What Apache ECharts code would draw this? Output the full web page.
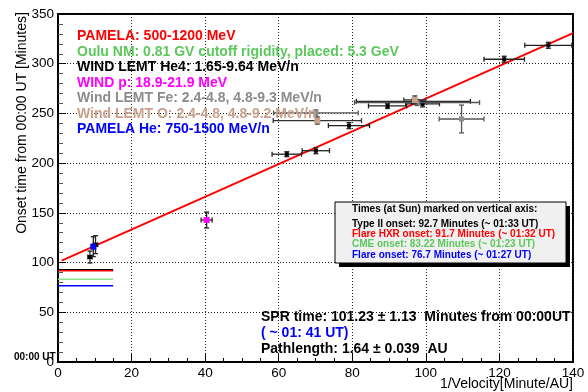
<!DOCTYPE html>
<html><head><meta charset="utf-8">
<script src="https://cdn.jsdelivr.net/npm/echarts@6/dist/echarts.min.js"></script>
<style>html,body{margin:0;padding:0;background:#fff}#c{width:588px;height:392px}</style>
</head><body><div id="c"></div>
<script>
// ---- data ----
const xTicks = [0, 20, 40, 60, 80, 100, 120, 140];
const yTicks = [0, 50, 100, 150, 200, 250, 300, 350];

// WIND LEMT He4 (black)
const he4X    = [8.7, 10.2, 62.2, 70.1, 79.1, 89.6, 96.6, 99.1, 121.3, 133.3];
const he4Y    = [105.6, 118, 209, 212.5, 237.7, 257.5, 262.2, 259.6, 304.5, 318.5];
const he4Xerr = [0.6, 0.6, 4.0, 3.7, 5.6, 5.2, 15.5, 4.6, 5.5, 6.4];
const he4Yerr = [6, 9, 2.5, 3, 3, 2.5, 2, 3, 3, 3];

// Wind LEMT Fe (gray)
const feX    = [70.1, 97.6, 109.7];
const feY    = [250.5, 261.0, 244.4];
const feXerr = [11.5, 17.0, 6.1];
const feYerr = [3, 3, 14];

// Wind LEMT O (tan)
const oX    = [70.5, 97.0];
const oY    = [242.8, 263.6];
const oXerr = [12.0, 3.0];
const oYerr = [3.5, 4];

// WIND p (magenta)
const pX = [40.4], pY = [142.8], pXerr = [1.5], pYerr = [8];

// PAMELA He (blue)
const heX = [9.6], heY = [116], heXerr = [0.5], heYerr = [10];

// fitted line endpoints
const fitX = [1, 140];
const fitY = [102, 330.8];

// onset times at Sun, drawn on the vertical axis
const onsetNames  = ['Type II', 'Flare HXR', 'CME', 'Flare'];
const onsetValues = [92.7, 91.7, 83.22, 76.7];
const onsetXEnd   = 15;

const legendTexts = [
  'PAMELA: 500-1200 MeV',
  'Oulu NM: 0.81 GV cutoff rigidity, placed: 5.3 GeV',
  'WIND LEMT He4: 1.65-9.64 MeV/n',
  'WIND p: 18.9-21.9 MeV',
  'Wind LEMT Fe: 2.4-4.8, 4.8-9.3 MeV/n',
  'Wind LEMT O: 2.4-4.8, 4.8-9.2 MeV/n',
  'PAMELA He: 750-1500 MeV/n'
];
const boxTexts = [
  'Times (at Sun) marked on vertical axis:',
  'Type II onset: 92.7 Minutes (~ 01:33 UT)',
  'Flare HXR onset: 91.7 Minutes (~ 01:32 UT)',
  'CME onset: 83.22 Minutes (~ 01:23 UT)',
  'Flare onset: 76.7 Minutes (~ 01:27 UT)'
];

// ---- styles ----
const legendColors = ['#ff0000', '#5cc85c', '#000000', '#ff00ff', '#8c8c8c', '#c8a08c', '#0000ff'];
const boxColors = ['#000000', '#000000', '#ff0000', '#5cc85c', '#0000ff'];
const onsetColors = ['#000000', '#ff0000', '#90e090', '#0000ff'];
const FONT = '"Liberation Sans", Arial, Helvetica, sans-serif';

function rows(xs, ys, xe, ye) { return xs.map((x, i) => [x, ys[i], xe[i], ye[i]]); }

function errSeries(name, data, markerColor, barColor, size, z) {
  return {
    type: 'custom', name: name, data: data, z: z || 5, clip: false,
    encode: { x: 0, y: 1 },
    renderItem: function (params, api) {
      const x = api.value(0), y = api.value(1), xe = api.value(2), ye = api.value(3);
      const c = api.coord([x, y]);
      const l = api.coord([x - xe, y]), r = api.coord([x + xe, y]);
      const t = api.coord([x, y + ye]), b = api.coord([x, y - ye]);
      const st = { stroke: barColor, lineWidth: 1.3 };
      const cap = 2.5;
      const h = size / 2;
      return {
        type: 'group',
        children: [
          { type: 'line', shape: { x1: l[0], y1: l[1], x2: r[0], y2: r[1] }, style: st },
          { type: 'line', shape: { x1: t[0], y1: t[1], x2: b[0], y2: b[1] }, style: st },
          { type: 'line', shape: { x1: l[0], y1: l[1] - cap, x2: l[0], y2: l[1] + cap }, style: st },
          { type: 'line', shape: { x1: r[0], y1: r[1] - cap, x2: r[0], y2: r[1] + cap }, style: st },
          { type: 'line', shape: { x1: t[0] - cap, y1: t[1], x2: t[0] + cap, y2: t[1] }, style: st },
          { type: 'line', shape: { x1: b[0] - cap, y1: b[1], x2: b[0] + cap, y2: b[1] }, style: st },
          { type: 'rect', shape: { x: c[0] - h, y: c[1] - h, width: size, height: size }, style: { fill: markerColor } }
        ]
      };
    }
  };
}

const chart = echarts.init(document.getElementById('c'), null, { renderer: 'canvas' });

const series = [];
series.push({
  type: 'line', data: fitX.map((x, i) => [x, fitY[i]]), symbol: 'none', z: 4,
  lineStyle: { color: '#ff0000', width: 2 }, silent: true
});
onsetValues.forEach((v, i) => {
  series.push({
    type: 'line', name: onsetNames[i], data: [[0, v], [onsetXEnd, v]], symbol: 'none', z: 3,
    lineStyle: { color: onsetColors[i], width: 1.5 }, silent: true
  });
});
series.push(errSeries('He4', rows(he4X, he4Y, he4Xerr, he4Yerr), '#000000', '#222222', 4, 5));
series.push(errSeries('Fe', rows(feX, feY, feXerr, feYerr), '#8c8c8c', '#555555', 5, 6));
series.push(errSeries('O', rows(oX, oY, oXerr, oYerr), '#c8a08c', '#333333', 6, 7));
series.push(errSeries('p', rows(pX, pY, pXerr, pYerr), '#ff00ff', '#222222', 6, 7));
series.push(errSeries('PAMELA He', rows(heX, heY, heXerr, heYerr), '#0000ff', '#222222', 6, 8));

const graphics = [];
legendTexts.forEach((t, i) => {
  graphics.push({ type: 'text', x: 77, y: 36.5 + i * 15.5, z: 20,
    style: { text: t, fill: legendColors[i], font: 'bold 14px ' + FONT, textVerticalAlign: 'middle' } });
});
graphics.push({ type: 'rect', shape: { x: 339, y: 206, width: 231, height: 61 }, style: { fill: '#000' }, z: 18 });
graphics.push({ type: 'rect', shape: { x: 335, y: 202, width: 231, height: 61 }, style: { fill: '#f0f0f0', stroke: '#000', lineWidth: 1 }, z: 19 });
const boxY = [209, 224, 234, 244, 255];
boxTexts.forEach((t, i) => {
  graphics.push({ type: 'text', x: 352, y: boxY[i], z: 21,
    style: { text: t, fill: boxColors[i], font: 'bold 10px ' + FONT, textVerticalAlign: 'middle' } });
});
graphics.push({ type: 'text', x: 261, y: 317, z: 20, style: { text: 'SPR time: 101.23 \u00b1 1.13  Minutes from 00:00UT', fill: '#000', font: 'bold 14px ' + FONT, textVerticalAlign: 'middle' } });
graphics.push({ type: 'text', x: 261, y: 333, z: 20, style: { text: '( ~ 01: 41 UT)', fill: '#0000ff', font: 'bold 14px ' + FONT, textVerticalAlign: 'middle' } });
graphics.push({ type: 'text', x: 261, y: 349, z: 20, style: { text: 'Pathlength: 1.64 \u00b1 0.039  AU', fill: '#000', font: 'bold 14px ' + FONT, textVerticalAlign: 'middle' } });
graphics.push({ type: 'text', x: 22, y: 123, rotation: Math.PI / 2, z: 20,
  style: { text: 'Onset time from 00:00 UT [Minutes]', fill: '#000', font: '14px ' + FONT, textAlign: 'center', textVerticalAlign: 'middle' } });
graphics.push({ type: 'text', x: 573, y: 384, z: 20,
  style: { text: '1/Velocity[Minute/AU]', fill: '#000', font: '14px ' + FONT, textAlign: 'right', textVerticalAlign: 'middle' } });
graphics.push({ type: 'text', x: 14, y: 357, z: 20,
  style: { text: '00:00 UT', fill: '#000', font: 'bold 10px ' + FONT, textVerticalAlign: 'middle' } });

const dotted = { show: true, lineStyle: { color: '#222', width: 1, type: [1, 2] } };

chart.setOption({
  animation: false,
  backgroundColor: '#ffffff',
  grid: { left: 58, right: 15, top: 14, bottom: 30, show: true, borderColor: '#000', borderWidth: 2, backgroundColor: 'transparent' },
  xAxis: {
    type: 'value', min: xTicks[0], max: xTicks[xTicks.length - 1], interval: xTicks[1] - xTicks[0],
    axisLine: { show: true, onZero: false, lineStyle: { color: '#000', width: 2 } },
    axisTick: { show: true, inside: true, length: 9, lineStyle: { color: '#000', width: 1 } },
    minorTick: { show: true, splitNumber: 4, length: 4, lineStyle: { color: '#000' } },
    splitLine: dotted,
    axisLabel: { color: '#000', fontSize: 13.5, fontFamily: FONT, margin: 4, showMaxLabel: true, showMinLabel: true }
  },
  yAxis: {
    type: 'value', min: yTicks[0], max: yTicks[yTicks.length - 1], interval: yTicks[1] - yTicks[0],
    axisLine: { show: true, onZero: false, lineStyle: { color: '#000', width: 2 } },
    axisTick: { show: true, inside: true, length: 8, lineStyle: { color: '#000', width: 1 } },
    minorTick: { show: true, splitNumber: 5, length: 5, lineStyle: { color: '#555' } },
    splitLine: dotted,
    axisLabel: { color: '#000', fontSize: 13.5, fontFamily: FONT, margin: 4 }
  },
  series: series,
  graphic: graphics
});
</script></body></html>
